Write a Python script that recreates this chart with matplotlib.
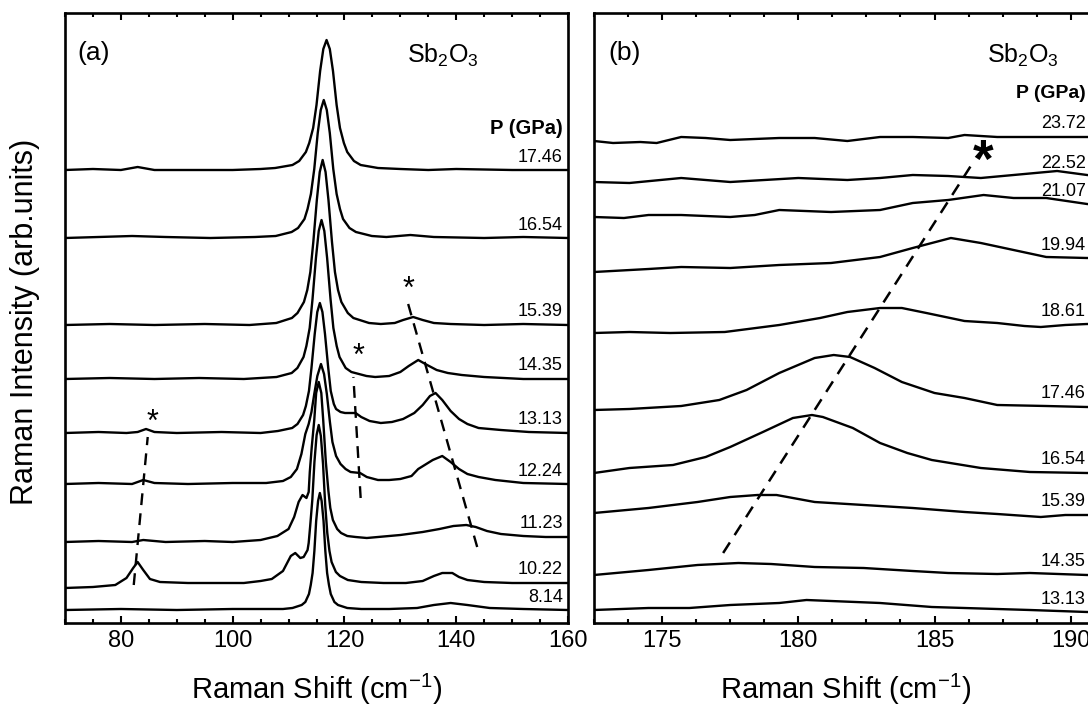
import numpy as np
import matplotlib.pyplot as plt
import matplotlib.transforms as mtransforms
from matplotlib.ticker import MultipleLocator

plt.rcParams['font.family'] = ['Liberation Sans', 'DejaVu Sans']
plt.rcParams['mathtext.fontset'] = 'custom'
plt.rcParams['mathtext.rm'] = 'Liberation Sans'
plt.rcParams['mathtext.it'] = 'Liberation Sans:italic'
plt.rcParams['mathtext.bf'] = 'Liberation Sans:bold'
plt.rcParams['mathtext.default'] = 'regular'

# ---------------- (a) 70-160 cm-1 ----------------
pressures_a = ['17.46', '16.54', '15.39', '14.35', '13.13', '12.24', '11.23', '10.22', '8.14']
offsets_a = [453, 385, 298, 244, 190, 139, 81, 35, 13]

shift_a_1746 = [70, 75, 80, 83, 86, 92, 100, 105, 107.6, 110.7, 111.9, 113.1, 113.7, 114.4, 115.0, 115.65,
                116.22, 116.8, 117.38, 117.95, 118.6, 119.2, 119.9, 120.5, 121.7, 122.9, 126.0, 130, 135,
                140, 150, 160]
int_a_1746 = [0, 1, 0, 3, 0, 0, 0, 1, 2, 5, 9, 18, 27, 42, 65, 99, 121, 130, 121, 99, 65, 42, 27, 18, 9,
              5, 2, 1, 0, 1, 0, 0]

shift_a_1654 = [70, 76, 82, 88, 96, 104, 107.7, 110.55, 111.7, 112.85, 113.4, 114.0, 114.6, 115.22, 115.76,
                116.3, 116.84, 117.38, 118.0, 118.6, 119.2, 119.75, 120.9, 122.05, 124.9, 127.5, 131.8, 136,
                145, 152, 160]
int_a_1654 = [0, 1, 2, 1, 0, 1, 2, 6, 10, 19, 29, 44, 69, 105, 128, 138, 128, 105, 69, 44, 29, 19, 10, 6,
              2, 1, 3, 1, 0, 1, 0]

shift_a_1539 = [70, 78, 86, 95, 103, 107.8, 110.6, 111.6, 112.75, 113.35, 113.9, 114.43, 115.06, 115.58,
                116.1, 116.62, 117.14, 117.77, 118.3, 118.85, 119.45, 120.6, 121.6, 124.4, 126.5, 129, 130.5,
                132.3, 134, 136, 139, 145, 152, 160]
int_a_1539 = [0, 1, 0, 1, 0, 2, 7, 12, 23, 35, 53, 83, 125, 153, 165, 153, 125, 83, 53, 35, 23, 12, 7, 2,
              1, 2, 5, 8, 5, 2, 1, 0, 1, 0]

shift_a_1435 = [70, 78, 86, 94, 102, 107.85, 110.56, 111.58, 112.68, 113.19, 113.78, 114.29, 114.9, 115.4,
                115.9, 116.4, 116.9, 117.51, 118.02, 118.61, 119.12, 120.22, 121.24, 123.95, 125.5, 128, 130,
                131.5, 133.2, 134.8, 136.5, 138.5, 141, 145, 152, 160]
int_a_1435 = [0, 1, 0, 1, 0, 2, 6, 11, 22, 33, 51, 80, 121, 148, 159, 148, 121, 80, 51, 33, 22, 11, 7, 3,
              2, 3, 7, 13, 19, 14, 9, 6, 4, 2, 0, 0]

shift_a_1313 = [70, 76, 81, 83, 84.5, 86, 90, 98, 105, 108.1, 110.65, 111.6, 112.6, 113.1, 113.65, 114.1,
                114.68, 115.14, 115.6, 116.06, 116.52, 117.1, 117.55, 118.1, 118.5, 119.3, 120.1, 121, 122,
                123, 124.5, 126.5, 128.5, 130.5, 132.5, 134, 135.3, 136.3, 137.5, 139, 140.5, 142, 144, 148,
                153, 160]
int_a_1313 = [0, 1, 0, 1, 4, 1, 0, 1, 0, 2, 5, 9, 18, 27, 42, 65, 99, 121, 130, 121, 99, 65, 42, 29, 24,
              21, 20, 20, 20, 16, 12, 10, 11, 14, 20, 28, 37, 40, 33, 22, 14, 9, 5, 3, 1, 0]

shift_a_1224 = [70, 76, 82, 84, 86, 92, 100, 106, 109, 110.4, 111.5, 112.3, 113.0, 113.6, 114.1, 114.6,
                115.15, 115.8, 116.35, 116.85, 117.4, 117.85, 118.5, 119.3, 120.2, 121.1, 122.8, 124, 126,
                128, 130, 132, 133.2, 135.8, 137.5, 139, 140.5, 142, 144, 147, 152, 160]
int_a_1224 = [0, 1, 0, 4, 1, 0, 1, 1, 3, 7, 15, 30, 50, 60, 72, 90, 108, 120, 110, 90, 62, 42, 28, 20, 15,
              12, 11, 7, 4, 4, 5, 8, 15, 24, 28, 22, 15, 10, 7, 4, 1, 0]

shift_a_1123 = [70, 76, 82, 84, 88, 95, 100, 105, 108, 110, 111, 111.8, 112.5, 113.2, 113.6, 113.8, 114.15,
                114.6, 114.94, 115.4, 115.86, 116.2, 116.67, 117.13, 117.47, 117.93, 118.7, 119.4, 120.5,
                122, 124, 126, 130, 134, 137, 139.5, 141.8, 143.5, 145.5, 148, 152, 156, 160]
int_a_1123 = [0, 1, 0, 2, 0, 1, 0, 2, 6, 13, 25, 40, 47, 44, 50, 70, 95, 122, 149, 160, 149, 122, 80, 51,
              34, 22, 13, 9, 6, 5, 4, 5, 7, 10, 13, 16, 17, 15, 11, 8, 6, 5, 5]

shift_a_1022 = [70, 75, 79, 81, 82.2, 83, 84, 85.2, 87, 92, 97, 102, 105, 107, 109, 110.4, 111.2, 112.1,
                112.7, 113.4, 113.6, 113.87, 114.25, 114.63, 115.02, 115.4, 115.78, 116.17, 116.55, 116.93,
                117.32, 117.7, 118.47, 119.2, 120.6, 123, 127, 131, 134, 136, 137.5, 139.3, 140.5, 142,
                145, 150, 155, 160]
int_a_1022 = [0, 1, 3, 10, 20, 26, 18, 9, 6, 5, 5, 5, 7, 9, 17, 32, 35, 30, 31, 38, 45, 62, 88, 126, 153,
              163, 152, 124, 84, 55, 37, 26, 16, 12, 8, 6, 5, 5, 7, 12, 15, 15, 11, 8, 6, 5, 5, 5]

shift_a_814 = [70, 80, 90, 100, 106, 109, 110.7, 112.35, 113.0, 113.65, 113.97, 114.3, 114.62, 114.94,
               115.28, 115.6, 115.92, 116.26, 116.58, 116.9, 117.23, 117.55, 118.2, 118.85, 120.5, 123, 128,
               133, 136, 139, 142, 146, 152, 160]
int_a_814 = [0, 1, 0, 1, 1, 1, 2, 5, 8, 16, 25, 37, 59, 89, 109, 117, 109, 89, 59, 37, 25, 16, 8, 5, 2, 1,
             1, 2, 5, 7, 5, 2, 1, 0]

# ---------------- (b) 172-191 cm-1 ----------------
pressures_b = ['23.72', '22.52', '21.07', '19.94', '18.61', '17.46', '16.54', '15.39', '14.35', '13.13']
offsets_b = [482, 441, 406, 351, 290, 213, 150, 110, 48, 13]

shift_b_2372 = [172.5, 173.2, 174.2, 174.8, 175.7, 176.6, 177.5, 179.3, 180.6, 181.8, 183.0, 184.2, 185.5,
                186.1, 187.3, 189.1, 191.0]
int_b_2372 = [0, -2, -1, -2, 4, 3, 1, 3, 3, 0, 4, 4, 3, 6, 4, 4, 4]

shift_b_2252 = [172.5, 173.8, 175.7, 177.5, 180.0, 181.8, 183.0, 184.2, 185.5, 186.7, 187.9, 189.5, 190.6,
                191.0]
int_b_2252 = [0, -1, 4, 0, 4, 2, 4, 7, 6, 4, 7, 11, 7, 6]

shift_b_2107 = [172.5, 173.6, 174.5, 175.7, 177.5, 178.4, 179.3, 181.2, 183.0, 184.2, 185.5, 186.8, 187.9,
                189.1, 190.6, 191.0]
int_b_2107 = [0, -1, 2, 2, 0, 2, 7, 5, 7, 14, 17, 22, 19, 19, 13, 12]

shift_b_1994 = [172.5, 174.5, 175.7, 177.5, 179.3, 181.2, 183.0, 184.2, 185.6, 186.7, 187.9, 189.1, 190.6,
                191.0]
int_b_1994 = [0, 3, 5, 4, 7, 9, 15, 24, 34, 29, 22, 15, 14, 14]

shift_b_1861 = [172.5, 173.8, 175.3, 177.3, 179.3, 180.8, 181.8, 183.0, 183.8, 184.7, 186.1, 187.3, 188.3,
                188.9, 189.8, 190.6, 191.0]
int_b_1861 = [0, 1, 0, 1, 8, 15, 21, 25, 25, 20, 12, 10, 7, 6, 8, 9, 9]

shift_b_1746 = [172.5, 173.8, 175.7, 177.1, 178.1, 179.3, 180.6, 181.3, 181.9, 182.8, 183.8, 185.0, 186.1,
                187.3, 189.1, 190.6, 191.0]
int_b_1746 = [0, 1, 4, 10, 20, 37, 52, 55, 53, 42, 28, 17, 12, 5, 4, 3, 3]

shift_b_1654 = [172.5, 173.8, 175.4, 176.6, 177.5, 178.7, 179.8, 180.5, 180.9, 182.0, 183.0, 184.0, 184.9,
                186.7, 188.5, 190.6, 191.0]
int_b_1654 = [0, 5, 8, 16, 26, 41, 55, 58, 56, 45, 30, 20, 13, 5, 1, 0, 0]

shift_b_1539 = [172.5, 174.5, 176.3, 177.5, 178.5, 179.2, 180.6, 182.4, 184.2, 186.1, 187.3, 188.9, 189.8,
                190.6, 191.0]
int_b_1539 = [0, 5, 11, 16, 18, 18, 11, 8, 5, 1, -1, -4, -2, -2, -2]

shift_b_1435 = [172.5, 174.5, 176.3, 177.8, 179.0, 180.6, 182.4, 184.2, 185.5, 187.3, 188.5, 190.6, 191.0]
int_b_1435 = [0, 5, 10, 12, 11, 8, 7, 4, 2, 1, 2, 0, 0]

shift_b_1313 = [172.5, 174.5, 176.0, 177.5, 179.3, 180.3, 181.2, 183.0, 184.9, 186.1, 188.5, 190.6, 191.0]
int_b_1313 = [0, 2, 2, 5, 7, 10, 9, 7, 3, 2, 0, -2, -2]

# guide lines following the new modes, and where the asterisks sit
guides_a = [([82.3, 84.8], [38, 186]), ([122.9, 121.6], [125, 246]), ([143.75, 131.25], [76, 322])]
stars_a = [(85.7, 210), (122.5, 276), (131.4, 343)]
guide_b = ([177.24, 186.4], [70, 460])
star_b = (186.8, 476)

spectra_a = [(shift_a_1746, int_a_1746), (shift_a_1654, int_a_1654), (shift_a_1539, int_a_1539),
             (shift_a_1435, int_a_1435), (shift_a_1313, int_a_1313), (shift_a_1224, int_a_1224),
             (shift_a_1123, int_a_1123), (shift_a_1022, int_a_1022), (shift_a_814, int_a_814)]
spectra_b = [(shift_b_2372, int_b_2372), (shift_b_2252, int_b_2252), (shift_b_2107, int_b_2107),
             (shift_b_1994, int_b_1994), (shift_b_1861, int_b_1861), (shift_b_1746, int_b_1746),
             (shift_b_1654, int_b_1654), (shift_b_1539, int_b_1539), (shift_b_1435, int_b_1435),
             (shift_b_1313, int_b_1313)]

W, H = 1088, 707
fig = plt.figure(figsize=(W / 100, H / 100), dpi=100)


def box(x0, y0, x1, y1):
    # pixel edges -> figure fraction rectangle
    return [x0 / W, 1 - y1 / H, (x1 - x0) / W, (y1 - y0) / H]


ax_a = fig.add_axes(box(65, 13, 568, 623))
ax_b = fig.add_axes(box(594, 13, 1098, 623))


def style(ax, lo, hi, major, minor):
    ax.set_xlim(lo, hi)
    ax.set_ylim(0, 610)
    ax.xaxis.set_major_locator(MultipleLocator(major))
    ax.xaxis.set_minor_locator(MultipleLocator(minor))
    ax.tick_params(axis='x', which='both', direction='in', top=True, labelsize=17, pad=5, width=1.5)
    ax.tick_params(axis='x', which='major', length=5)
    ax.tick_params(axis='x', which='minor', length=3)
    ax.set_yticks([])
    for s in ax.spines.values():
        s.set_linewidth(1.9)
    ax.set_xlabel('Raman Shift (cm$^{-1}$)', fontsize=21)
    ax.xaxis.set_label_coords(0.5, -0.08)


def draw(ax, spectra, offsets, labels, xr):
    lab = mtransforms.blended_transform_factory(ax.transAxes, ax.transData)
    for (x, y), off, p in zip(spectra, offsets, labels):
        y = np.asarray(y) + off
        ax.plot(x, y, color='black', lw=1.7, solid_joinstyle='round')
        ax.text(xr, y[-1] + 13, p, transform=lab, ha='right', va='center', fontsize=13)


def star(ax, x, y, size, bold=False):
    ax.annotate('*', (x, y), xytext=(0, -0.57 * size), textcoords='offset points',
                ha='center', va='baseline', fontsize=size,
                fontweight='bold' if bold else 'normal')


style(ax_a, 70, 160, 20, 5)
style(ax_b, 172.5, 191, 5, 1.25)

draw(ax_a, spectra_a, offsets_a, pressures_a, 0.99)
draw(ax_b, spectra_b, offsets_b, pressures_b, 0.976)

for gx, gy in guides_a:
    ax_a.plot(gx, gy, color='black', lw=1.7, linestyle=(0, (5, 3.5)))
for sx, sy in stars_a:
    star(ax_a, sx, sy, 22)
ax_b.plot(guide_b[0], guide_b[1], color='black', lw=1.8, linestyle=(0, (5, 3.5)))
star(ax_b, star_b[0], star_b[1], 38, bold=True)

ax_a.text(0.024, 0.935, '(a)', transform=ax_a.transAxes, ha='left', va='center', fontsize=19)
ax_b.text(0.028, 0.935, '(b)', transform=ax_b.transAxes, ha='left', va='center', fontsize=19)
ax_a.text(0.68, 0.93, 'Sb$_2$O$_3$', transform=ax_a.transAxes, ha='left', va='center', fontsize=18)
ax_b.text(0.78, 0.93, 'Sb$_2$O$_3$', transform=ax_b.transAxes, ha='left', va='center', fontsize=18)
ax_a.text(0.99, 495, 'P (GPa)', transform=mtransforms.blended_transform_factory(ax_a.transAxes, ax_a.transData),
          ha='right', va='center', fontsize=14.5, fontweight='bold')
ax_b.text(0.976, 530, 'P (GPa)', transform=mtransforms.blended_transform_factory(ax_b.transAxes, ax_b.transData),
          ha='right', va='center', fontsize=14, fontweight='bold')

fig.text(25 / W, 1 - 322 / H, 'Raman Intensity (arb.units)', rotation=90, ha='center', va='center', fontsize=22)

fig.savefig('out.png', dpi=100)
